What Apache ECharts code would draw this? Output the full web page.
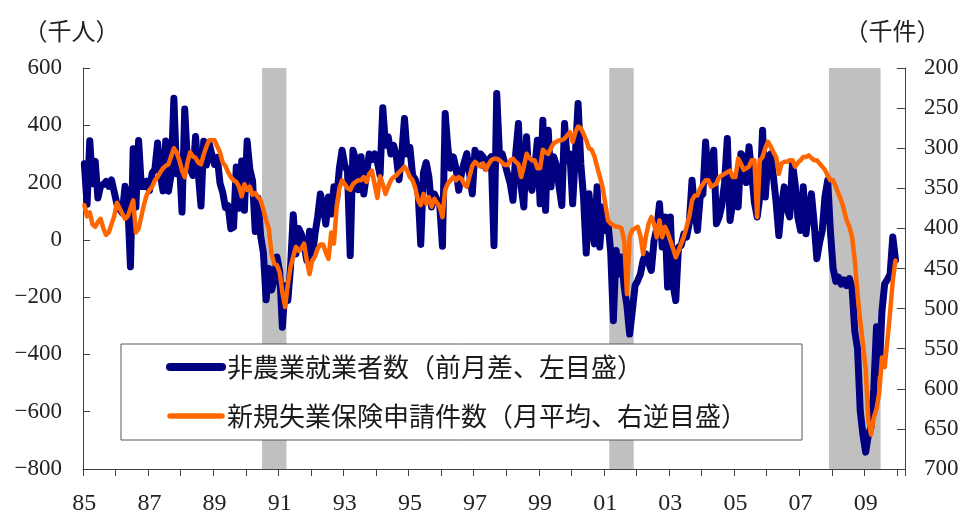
<!DOCTYPE html>
<html>
<head>
<meta charset="utf-8">
<script src="https://cdn.jsdelivr.net/npm/echarts@6/dist/echarts.min.js"></script>
<style>
html,body{margin:0;padding:0;background:#fff;}
#chart{width:963px;height:511px;}
</style>
</head>
<body>
<div id="chart"></div>
<script>
// ---- Data (Jan 1985 – Dec 2009, monthly) ----
const firstYear = 1985;
const lastYear = 2010;

// Nonfarm payrolls, change from previous month (thousand persons), left axis
const payrolls = [
  266,124,346,196,274,146,189,193,204,187,209,168,   // 1985
  125,107,94,187,127,-94,318,114,347,186,186,205,    // 1986
  172,233,247,338,227,171,345,170,228,494,231,287,   // 1987
  97,457,270,248,225,361,230,118,344,261,337,297,    // 1988
  263,288,198,166,113,119,39,44,254,110,275,103,     // 1989
  345,246,206,29,146,13,-45,-209,-100,-175,-140,-60, // 1990
  -110,-305,-160,-212,-95,88,-49,40,20,-20,-72,30,   // 1991
  -65,20,80,160,120,55,150,90,185,140,250,313,       // 1992
  260,240,-55,313,280,175,290,160,230,300,280,300,   // 1993
  272,226,461,330,360,300,330,290,210,300,424,300,   // 1994
  323,225,210,170,-16,235,270,220,115,160,140,120,   // 1995
  -22,441,320,250,290,250,173,230,270,301,230,161,   // 1996
  313,278,300,290,250,278,290,-20,511,300,301,266,   // 1997
  230,196,138,300,406,185,115,360,196,173,250,348,   // 1998
  126,418,103,383,185,290,260,185,120,406,278,300,   // 1999
  126,300,476,266,150,-46,161,60,-14,185,-25,115,    // 2000
  33,60,-40,-282,-37,-119,-60,-165,-230,-329,-247,-160, // 2001
  -142,-119,-70,-49,-80,-107,-2,40,126,-25,80,-165,  // 2002
  80,-158,-212,-25,-20,21,10,60,208,100,33,150,      // 2003
  160,342,208,250,313,56,80,122,200,354,68,130,      // 2004
  220,115,301,290,200,325,231,130,80,150,383,150,    // 2005
  290,300,220,130,15,120,185,110,80,266,196,80,      // 2006
  33,185,21,100,161,60,-66,-10,33,150,208,30,        // 2007
  -100,-145,-130,-155,-140,-160,-135,-170,-320,-380,-597,-681, // 2008
  -741,-681,-652,-519,-303,-463,-250,-154,-139,-120,10,-70     // 2009
];

// Initial jobless claims, monthly average (thousand), right axis (inverted)
const claims = [
  371,385,380,395,398,392,388,400,408,405,395,385,   // 1985
  368,375,382,388,385,375,365,405,400,385,370,358,   // 1986
  352,348,340,336,330,325,322,320,310,300,305,315,   // 1987
  328,336,318,305,310,312,318,320,308,298,290,290,   // 1988
  290,298,305,318,322,330,336,340,342,348,360,345,   // 1989
  352,348,358,356,361,365,377,390,400,432,444,446,   // 1990
  455,480,498,470,448,435,423,428,425,419,440,457,   // 1991
  440,435,425,420,420,430,438,405,419,373,350,340,   // 1992
  345,350,352,345,342,340,340,336,342,332,328,345,   // 1993
  362,335,345,357,348,340,336,334,330,327,323,328,   // 1994
  336,340,350,365,371,357,369,361,373,363,368,373,   // 1995
  386,352,344,340,336,340,336,338,345,348,335,322,   // 1996
  317,320,323,319,327,320,315,313,313,315,318,321,   // 1997
  321,315,313,317,320,336,323,307,312,315,315,325,   // 1998
  325,302,305,307,300,294,292,290,290,288,284,280,   // 1999
  292,280,273,275,282,290,300,302,310,323,335,348,   // 2000
  369,390,394,396,398,398,400,415,482,410,402,400,   // 2001
  398,410,432,410,394,386,394,411,390,411,398,405,   // 2002
  415,425,436,428,419,410,398,385,365,359,359,350,   // 2003
  345,340,340,348,346,344,336,334,332,330,328,336,   // 2004
  336,313,319,327,325,323,315,315,386,315,311,300,   // 2005
  292,298,305,311,332,319,317,317,315,315,323,318,   // 2006
  315,311,311,309,312,315,315,319,323,327,334,340,   // 2007
  340,348,357,365,377,390,398,411,440,482,515,544,   // 2008
  575,640,657,636,625,605,561,573,540,505,465,440    // 2009
];

// x tick labels (every other year)
const yearTickLabels = ['85','87','89','91','93','95','97','99','01','03','05','07','09'];

// Recession periods (shaded)
const recessions = [
  ['1990-07', '1991-03'],
  ['2001-03', '2001-11'],
  ['2007-12', '2009-06']
];

const seriesNames = ['非農業就業者数（前月差、左目盛）', '新規失業保険申請件数（月平均、右逆目盛）'];

// month categories Jan 1985 .. Mar 2010
const months = [];
for (let y = firstYear; y <= lastYear; y++) {
  for (let m = 1; m <= 12; m++) {
    if (y === lastYear && m > 3) break;
    months.push(y + '-' + (m < 10 ? '0' + m : m));
  }
}

const axisColor = '#404040';
const numFont = 'Liberation Serif';
const jpFont = 'Noto Sans CJK JP';

const chart = echarts.init(document.getElementById('chart'), null, {renderer: 'canvas'});
chart.setOption({
  animation: false,
  backgroundColor: '#ffffff',
  grid: {left: 83, right: 58, top: 68, bottom: 42, containLabel: false, outerBoundsMode: 'none'},
  graphic: [
    {type: 'text', x: 71.5, y: 31, style: {text: '（千人）', font: '24px "Noto Sans CJK JP"', fill: '#222', align: 'center', verticalAlign: 'middle'}},
    {type: 'text', x: 892.5, y: 31, style: {text: '（千件）', font: '24px "Noto Sans CJK JP"', fill: '#222', align: 'center', verticalAlign: 'middle'}}
  ],
  legend: {
    orient: 'vertical',
    left: 121,
    top: 344,
    padding: [10, 55, 11, 45],
    itemGap: 23,
    itemWidth: 52,
    itemHeight: 14,
    itemTextGap: 7,
    backgroundColor: '#ffffff',
    borderColor: '#595959',
    borderWidth: 1,
    selectedMode: false,
    textStyle: {fontFamily: jpFont, fontSize: 26, lineHeight: 26, color: '#1a1a1a'},
    data: [
      {name: seriesNames[0], itemStyle: {opacity: 0}, lineStyle: {width: 8, cap: 'round', color: '#000080'}},
      {name: seriesNames[1], itemStyle: {opacity: 0}, lineStyle: {width: 5.5, cap: 'round', color: '#FF6600'}}
    ]
  },
  xAxis: [
    {
      type: 'category',
      data: months,
      boundaryGap: true,
      axisLine: {show: true, onZero: false, lineStyle: {color: axisColor, width: 1}},
      axisTick: {show: true, length: 7, interval: (i) => i % 12 === 0, lineStyle: {color: axisColor}},
      axisLabel: {
        interval: (i) => i % 24 === 0 && i < 300,
        formatter: (v, i) => yearTickLabels[Math.round(i / 24)] || '',
        margin: 23,
        fontFamily: numFont,
        fontSize: 24,
        color: '#222'
      },
      splitLine: {show: false}
    },
    {type: 'value', min: 0, max: months.length, show: false}
  ],
  yAxis: [
    {
      type: 'value',
      min: -800, max: 600, interval: 200,
      position: 'left',
      axisLine: {show: true, onZero: false, lineStyle: {color: axisColor}},
      axisTick: {show: true, inside: true, length: 7, lineStyle: {color: axisColor}},
      splitLine: {show: false},
      axisLabel: {margin: 21, fontFamily: numFont, fontSize: 23, color: '#222',
        formatter: (v) => String(v).replace('-', '\u2212')}
    },
    {
      type: 'value',
      min: 200, max: 700, interval: 50,
      inverse: true,
      position: 'right',
      axisLine: {show: true, onZero: false, lineStyle: {color: axisColor}},
      axisTick: {show: true, inside: true, length: 8, lineStyle: {color: axisColor}},
      splitLine: {show: false},
      axisLabel: {margin: 19, fontFamily: numFont, fontSize: 23, color: '#222'}
    }
  ],
  series: [
    {
      name: 'recession',
      type: 'line',
      xAxisIndex: 1,
      yAxisIndex: 0,
      data: [],
      silent: true,
      z: 1,
      markArea: {
        silent: true,
        itemStyle: {color: '#C0C0C0'},
        label: {show: false},
        data: recessions.map(([s, e]) => [{xAxis: months.indexOf(s)}, {xAxis: months.indexOf(e) + 1}])
      }
    },
    {
      name: seriesNames[0],
      type: 'line',
      xAxisIndex: 0,
      yAxisIndex: 0,
      data: payrolls,
      symbol: 'none',
      z: 3,
      itemStyle: {color: '#000080'},
      lineStyle: {color: '#000080', width: 7, join: 'round', cap: 'round'}
    },
    {
      name: seriesNames[1],
      type: 'line',
      xAxisIndex: 0,
      yAxisIndex: 1,
      data: claims,
      symbol: 'none',
      z: 4,
      itemStyle: {color: '#FF6600'},
      lineStyle: {color: '#FF6600', width: 4.5, join: 'round', cap: 'round'}
    }
  ]
});
</script>
</body>
</html>
